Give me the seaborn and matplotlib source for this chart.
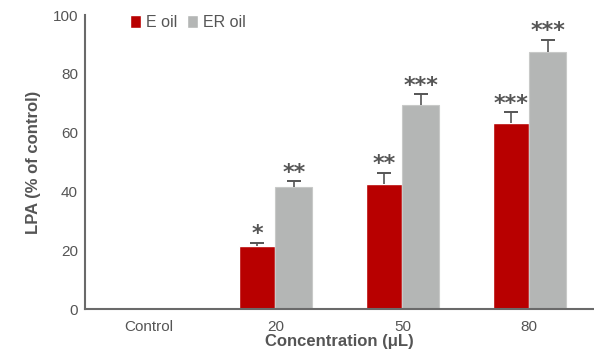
import numpy as np
import pandas as pd
import seaborn as sns
import matplotlib.pyplot as plt

# values
concentrations = ["Control", "20", "50", "80"]
e_oil = [0, 21.4, 42.5, 63.4]
e_oil_err = [0, 1.2, 3.9, 3.5]
er_oil = [0, 41.4, 69.4, 87.3]
er_oil_err = [0, 2.1, 3.7, 4.3]
e_stars = ["", "*", "**", "***"]
er_stars = ["", "**", "***", "***"]

sns.set_style("white")
plt.rcParams['font.family'] = ['Liberation Sans Narrow', 'Liberation Sans', 'DejaVu Sans']

df = pd.DataFrame({
    "Concentration": concentrations * 2,
    "LPA": e_oil + er_oil,
    "err": e_oil_err + er_oil_err,
    "stars": e_stars + er_stars,
    "Oil": ["E oil"] * 4 + ["ER oil"] * 4,
})

red = "#B80000"
grey = "#B4B6B5"
txt = "#555555"
axc = "#6a6a6a"

fig = plt.figure(figsize=(5.94, 3.61), dpi=100)
ax = fig.add_axes([0.143, 0.144, 0.855, 0.814])

sns.barplot(data=df, x="Concentration", y="LPA", hue="Oil",
            palette=[red, grey], width=0.58, errorbar=None, ax=ax,
            saturation=1)

# upper-only error bars + significance stars
for cont, oil in zip(ax.containers, ["E oil", "ER oil"]):
    sub = df[df["Oil"] == oil].reset_index(drop=True)
    for bar, (_, row) in zip(cont, sub.iterrows()):
        if oil == "ER oil":
            bar.set_edgecolor("#c8c9c8")
            bar.set_linewidth(0.8)
        if row["LPA"] == 0:
            continue
        xc = bar.get_x() + bar.get_width() / 2
        top = row["LPA"] + row["err"]
        ax.vlines(xc, row["LPA"], top, color="#555555", lw=1.2)
        ax.errorbar(xc, top, yerr=0, fmt="none", ecolor="#555555",
                    elinewidth=0, capsize=5, capthick=1.2)
        ax.annotate(row["stars"], (xc, top), xytext=(0, -1), textcoords="offset points",
                    ha="center", va="bottom", fontsize=16, fontweight="bold", color=txt,
                    family="DejaVu Sans")

ax.set_ylim(0, 100)
ax.set_xlim(-0.5, 3.5)
ax.set_yticks([0, 20, 40, 60, 80, 100])
ax.set_xticks([0, 1, 2, 3])
ax.set_xticks([0.5, 1.5, 2.5], minor=True)
ax.tick_params(axis="x", which="major", length=0, pad=8)
ax.tick_params(axis="x", which="minor", length=5, direction="in", color=axc, width=1)
ax.tick_params(axis="y", length=4, direction="in", color=axc, width=1, pad=5)
ax.tick_params(labelsize=11, labelcolor=txt)

for s in ["top", "right"]:
    ax.spines[s].set_visible(False)
for s in ["left", "bottom"]:
    ax.spines[s].set_color(axc)
    ax.spines[s].set_linewidth(1.5)

ax.set_xlabel("Concentration (μL)", fontsize=12, fontweight="bold", color=txt, labelpad=0)
ax.set_ylabel("LPA (% of control)", fontsize=12, fontweight="bold", color=txt, labelpad=8)

leg = ax.legend(loc="upper left", bbox_to_anchor=(0.06, 1.05), ncol=2, frameon=False,
                handlelength=0.7, handleheight=0.9, handletextpad=0.3, columnspacing=0.6,
                fontsize=11.5)
for t in leg.get_texts():
    t.set_color(txt)

fig.savefig("out.png", dpi=100)
